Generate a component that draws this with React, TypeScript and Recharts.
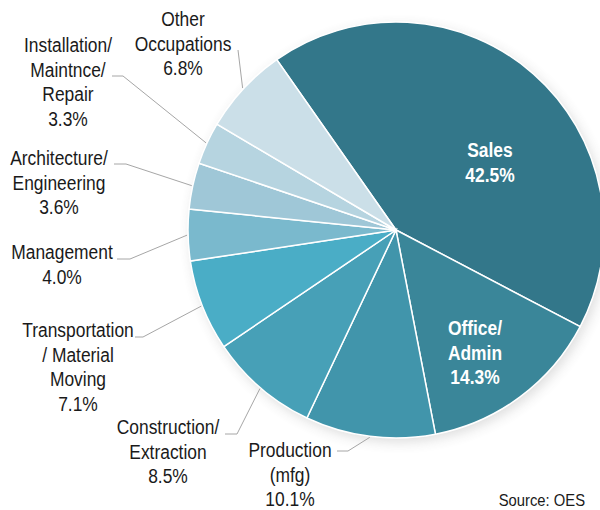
import { PieChart, Pie, Cell } from 'recharts';

// Share of employment by occupation group, clockwise from Sales
const categories = [
  'Sales',
  'Office/\nAdmin',
  'Production\n(mfg)',
  'Construction/\nExtraction',
  'Transportation\n/ Material\nMoving',
  'Management',
  'Architecture/\nEngineering',
  'Installation/\nMaintnce/\nRepair',
  'Other\nOccupations',
];
const shares = [42.5, 14.3, 10.1, 8.5, 7.1, 4.0, 3.6, 3.3, 6.8];
const colors = [
  '#33778a', '#3a8699', '#4195ab', '#47a0b7', '#4aadc6',
  '#7ab9cd', '#9fc7d7', '#b6d4e0', '#cbdfe8',
];

const data = categories.map((name, i) => ({ name, value: shares[i] }));

const CX = 396;
const CY = 230;
const R = 208;
const RADIAN = Math.PI / 180;
const LINE_H = 24.5;
const FONT = '"Liberation Sans", Arial, sans-serif';
const NARROW = 0.87; // squeeze to look like Arial Narrow

// text block centre x / first line y, and leader elbow + end (relative to pie centre)
const layout = [
  { x: 94, y: -80, inside: true },
  { x: 79, y: 98, inside: true },
  { x: -106, y: 220, elbow: [-48, 221], end: [-59, 221] },
  { x: -228, y: 197, elbow: [-159, 204], end: [-171, 204] },
  { x: -318, y: 100, elbow: [-253, 107], end: [-261, 107] },
  { x: -334, y: 22, elbow: [-266, 29], end: [-279, 29] },
  { x: -337, y: -72, elbow: [-270, -66], end: [-282, -66] },
  { x: -328, y: -185, elbow: [-273, -154], end: [-284, -154] },
  { x: -213, y: -211, elbow: [-158, -180] },
];

const squeeze = (x: number) => `translate(${x},0) scale(${NARROW},1) translate(${-x},0)`;

const renderLabel = (props: any) => {
  const { cx, cy, midAngle, outerRadius, index, value, name } = props;
  const l = layout[index];
  const lines = [...String(name).split('\n'), `${value.toFixed(1)}%`];
  const tx = cx + l.x;
  const ty = cy + l.y;
  const sx = cx + (outerRadius + 1) * Math.cos(-midAngle * RADIAN);
  const sy = cy + (outerRadius + 1) * Math.sin(-midAngle * RADIAN);
  let pts = '';
  if (!l.inside) {
    pts = `${sx},${sy} ${cx + l.elbow[0]},${cy + l.elbow[1]}`;
    if (l.end) pts += ` ${cx + l.end[0]},${cy + l.end[1]}`;
  }
  return (
    <g key={`lbl-${index}`}>
      {!l.inside && <polyline points={pts} fill="none" stroke="#a6a6a6" strokeWidth={1} />}
      <text
        x={tx}
        y={ty}
        transform={squeeze(tx)}
        textAnchor="middle"
        dominantBaseline="central"
        fontFamily={FONT}
        fontSize={20}
        fontWeight={l.inside ? 700 : 400}
        fill={l.inside ? '#ffffff' : '#1a1a1a'}
      >
        {lines.map((t, k) => (
          <tspan key={k} x={tx} y={ty + k * LINE_H}>
            {t}
          </tspan>
        ))}
      </text>
    </g>
  );
};

export default function App() {
  return (
    <div style={{ position: 'absolute', left: 0, top: 0, width: 600, height: 510, background: '#fff' }}>
      <style>{'.pie-shadow { filter: blur(4px); opacity: 0.45; }'}</style>
      <PieChart width={600} height={510} margin={{ top: 0, right: 0, bottom: 0, left: 0 }}>
        <Pie
          className="pie-shadow"
          data={data}
          dataKey="value"
          cx={CX + 3}
          cy={CY + 4}
          outerRadius={R}
          startAngle={125}
          endAngle={-235}
          stroke="none"
          fill="#555"
          isAnimationActive={false}
        />
        <Pie
          data={data}
          dataKey="value"
          nameKey="name"
          cx={CX}
          cy={CY}
          outerRadius={R}
          startAngle={125}
          endAngle={-235}
          stroke="#ffffff"
          strokeWidth={1.5}
          label={renderLabel}
          labelLine={false}
          isAnimationActive={false}
        >
          {data.map((d, i) => (
            <Cell key={d.name} fill={colors[i]} />
          ))}
        </Pie>
        <text
          x={585}
          y={500}
          transform={squeeze(585)}
          textAnchor="end"
          dominantBaseline="central"
          fontFamily={FONT}
          fontSize={17}
          fill="#1a1a1a"
        >
          Source: OES
        </text>
      </PieChart>
    </div>
  );
}
